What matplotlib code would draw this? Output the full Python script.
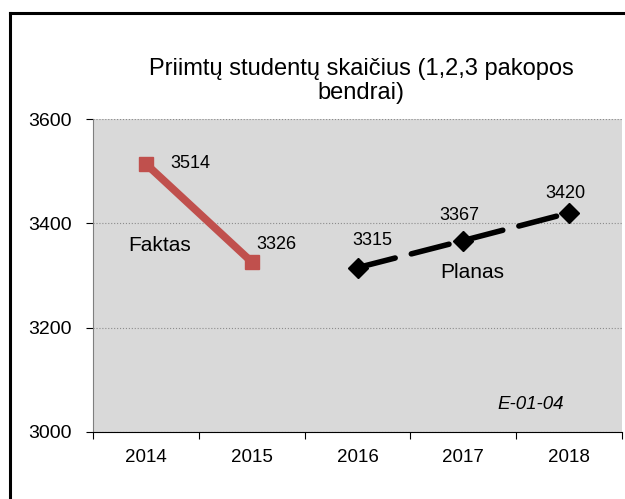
import matplotlib.pyplot as plt
from matplotlib.lines import Line2D

plt.rcParams['font.family'] = ['Liberation Sans', 'DejaVu Sans']

years = ['2014', '2015', '2016', '2017', '2018']
fact_years = ['2014', '2015']
fact = [3514, 3326]
plan_years = ['2016', '2017', '2018']
plan = [3315, 3367, 3420]
yticks = [3000, 3200, 3400, 3600]

fig = plt.figure(figsize=(6.25, 4.99), dpi=100)
ax = fig.add_axes([0.1488, 0.1343, 0.8464, 0.6272])
ax.set_facecolor('#d9d9d9')

fx = [years.index(y) for y in fact_years]
px = [years.index(y) for y in plan_years]

ax.plot(fx, fact, color='#c0504d', lw=5.5, marker='s', markersize=10,
        solid_capstyle='butt', zorder=3)
ax.plot(px, plan, color='black', lw=4, marker='D', markersize=10.5,
        linestyle=(0, (7, 3)), dash_capstyle='round', zorder=3)

# data labels (offsets in pixels from the point)
offs_fact = [(24, 0, 'left'), (5, 17, 'left')]
offs_plan = [(15, 27, 'center'), (-4, 25, 'center'), (-4, 19, 'center')]
for x, v, (dx, dy, ha) in zip(fx, fact, offs_fact):
    ax.annotate(str(v), (x, v), xytext=(dx * 0.72, dy * 0.72),
                textcoords='offset points', ha=ha, va='center', fontsize=13)
for x, v, (dx, dy, ha) in zip(px, plan, offs_plan):
    ax.annotate(str(v), (x, v), xytext=(dx * 0.72, dy * 0.72),
                textcoords='offset points', ha=ha, va='center', fontsize=13)

ax.text(0.13, 3358, 'Faktas', ha='center', va='center', fontsize=15)
ax.text(3.08, 3305, 'Planas', ha='center', va='center', fontsize=15)
ax.text(3.64, 3052, 'E-01-04', ha='center', va='center', fontsize=13.5,
        style='italic')

ax.set_ylim(3000, 3600)
ax.set_yticks(yticks)
ax.set_yticklabels([str(t) for t in yticks], fontsize=14)
ax.set_xlim(-0.5, 4.5)
ax.set_xticks([i - 0.5 for i in range(len(years) + 1)])
ax.set_xticklabels([])
ax.set_xticks(range(len(years)), minor=True)
ax.set_xticklabels(years, minor=True, fontsize=13.5)
ax.tick_params(axis='x', which='minor', length=0, pad=12)
ax.tick_params(axis='x', which='major', length=5, direction='out')
ax.tick_params(axis='y', length=5, direction='out', pad=10)

ax.grid(axis='y', linestyle=':', color='#8c8c8c', linewidth=0.8)
ax.set_axisbelow(True)
ax.spines['top'].set_visible(False)
ax.spines['right'].set_visible(False)
ax.spines['left'].set_color('#7f7f7f')
ax.spines['bottom'].set_color('black')

fig.text(0.578, 0.838, 'Priimtų studentų skaičius (1,2,3 pakopos\nbendrai)',
         ha='center', va='center', fontsize=17, linespacing=1.1)

# outer chart border (left and top edges visible)
fig.add_artist(Line2D([0.0155, 0.0155], [0.0, 0.974], color='black', lw=2.2))
fig.add_artist(Line2D([0.0155, 1.0], [0.974, 0.974], color='black', lw=2.2))

fig.savefig('out.png', dpi=100)
